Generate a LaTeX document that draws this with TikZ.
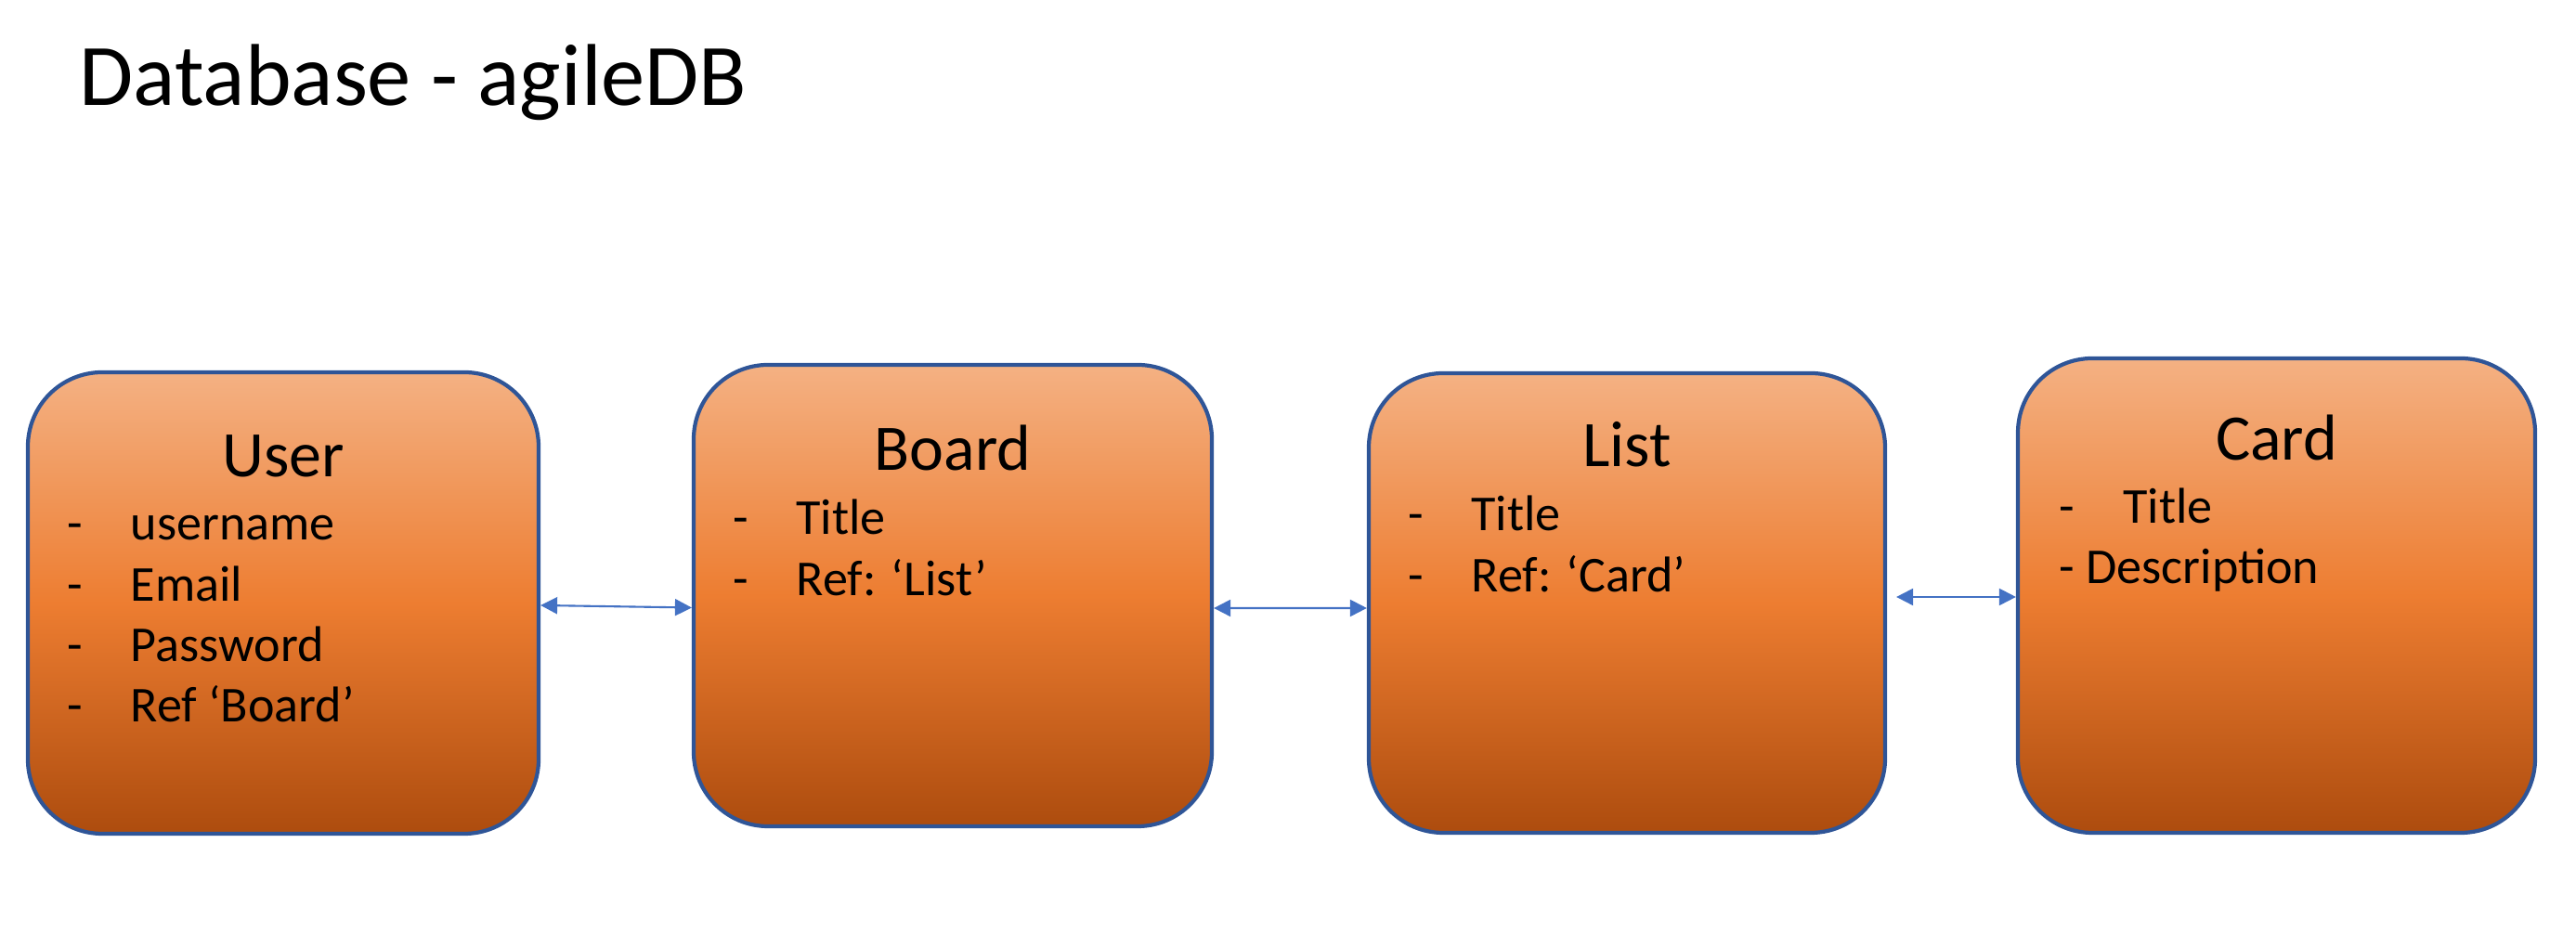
\documentclass[tikz,border=0pt]{standalone}
\usepackage{fontspec}
\setmainfont{Carlito}
\usepackage{tikz}
\usetikzlibrary{arrows.meta}
\definecolor{OrangeTop}{HTML}{F4B183}
\definecolor{OrangeMid}{HTML}{ED7D31}
\definecolor{OrangeBot}{HTML}{AD4C0E}
\definecolor{Frame}{HTML}{2F5597}
\definecolor{Link}{HTML}{4472C4}

\begin{document}
\begin{tikzpicture}[
	tablebox/.style={draw=Frame,line width=1.2pt,rounded corners=0.8cm,top color=OrangeTop,bottom color=OrangeBot,middle color=OrangeMid,inner sep=0pt},
	heading/.style={anchor=base west,inner sep=0pt,font=\fontsize{26.9}{32}\selectfont},
	boxtitle/.style={anchor=base,inner sep=0pt,font=\fontsize{19.9}{24}\selectfont},
	field/.style={anchor=base west,inner sep=0pt,font=\fontsize{15.4}{18}\selectfont},
	link/.style={draw=Link,line width=0.6pt,{Triangle[length=1.8mm,width=1.8mm]}-{Triangle[length=1.8mm,width=1.8mm]}}
]
\useasboundingbox (0,0) rectangle (27.74,10.20);

\node[heading] (heading) at (0.85,9.06) {Database - agileDB};

% the four tables
\node[tablebox,minimum width=5.50cm,minimum height=4.97cm] (user) at (3.05,3.705) {};
\node[tablebox,minimum width=5.58cm,minimum height=4.97cm] (board) at (10.26,3.785) {};
\node[tablebox,minimum width=5.56cm,minimum height=4.95cm] (list) at (17.52,3.705) {};
\node[tablebox,minimum width=5.57cm,minimum height=5.11cm] (card) at (24.515,3.785) {};

\node[boxtitle] (usertitle) at ([yshift=-1.15cm]user.north) {User};
\node[boxtitle] (boardtitle) at ([yshift=-1.16cm]board.north) {Board};
\node[boxtitle] (listtitle) at ([yshift=-1.03cm]list.north) {List};
\node[boxtitle] (cardtitle) at ([yshift=-1.12cm]card.north) {Card};

% fields
\node[field] (userdash1) at ([shift={(0.44,-1.83)}]user.north west) {-};
\node[field] (user1) at ([shift={(1.12,-1.83)}]user.north west) {username};
\node[field] (userdash2) at ([shift={(0.44,-2.49)}]user.north west) {-};
\node[field] (user2) at ([shift={(1.12,-2.49)}]user.north west) {Email};
\node[field] (userdash3) at ([shift={(0.44,-3.14)}]user.north west) {-};
\node[field] (user3) at ([shift={(1.12,-3.14)}]user.north west) {Password};
\node[field] (userdash4) at ([shift={(0.44,-3.79)}]user.north west) {-};
\node[field] (user4) at ([shift={(1.12,-3.79)}]user.north west) {Ref ‘Board’};

\node[field] (boarddash1) at ([shift={(0.44,-1.85)}]board.north west) {-};
\node[field] (board1) at ([shift={(1.12,-1.85)}]board.north west) {Title};
\node[field] (boarddash2) at ([shift={(0.44,-2.51)}]board.north west) {-};
\node[field] (board2) at ([shift={(1.12,-2.51)}]board.north west) {Ref: ‘List’};

\node[field] (listdash1) at ([shift={(0.44,-1.72)}]list.north west) {-};
\node[field] (list1) at ([shift={(1.12,-1.72)}]list.north west) {Title};
\node[field] (listdash2) at ([shift={(0.44,-2.38)}]list.north west) {-};
\node[field] (list2) at ([shift={(1.12,-2.38)}]list.north west) {Ref: ‘Card’};

\node[field] (carddash1) at ([shift={(0.46,-1.80)}]card.north west) {-};
\node[field] (card1) at ([shift={(1.15,-1.80)}]card.north west) {Title};
\node[field] (card2) at ([shift={(0.46,-2.45)}]card.north west) {- Description};

% links
\draw[link] ([yshift=-0.025cm]user.east) -- ([yshift=-0.13cm]board.west);
\draw[link] ([yshift=-0.135cm]board.east) -- ([yshift=-0.055cm]list.west);
\draw[link] ([xshift=0.1cm,yshift=0.065cm]list.east) -- ([yshift=-0.015cm]card.west);

\end{tikzpicture}
\end{document}
